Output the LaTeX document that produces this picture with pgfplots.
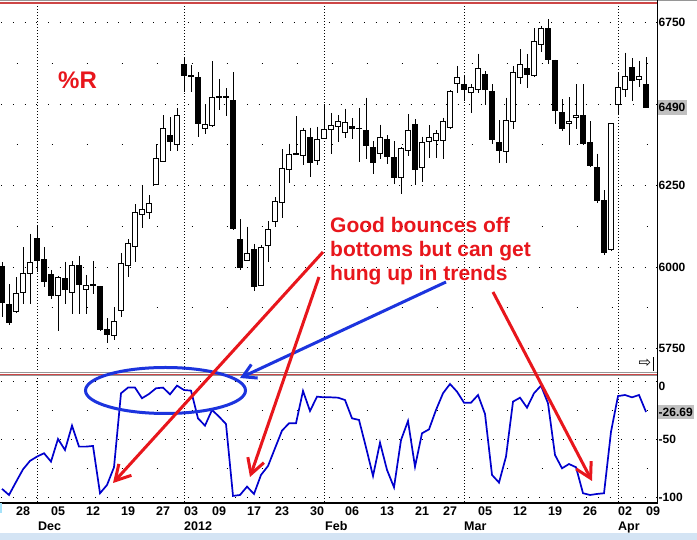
\documentclass[border=0pt]{standalone}
\usepackage{fontspec}
\setmainfont{Liberation Sans}
\newfontfamily\dejavu{DejaVu Sans}
\usepackage{pgfplots}
\usepackage{pgfplotstable}
\pgfplotsset{compat=1.18}
\usetikzlibrary{arrows.meta}
\definecolor{annred}{RGB}{232,22,28}
\definecolor{annblue}{RGB}{28,52,222}
\definecolor{wrline}{RGB}{0,0,205}
\definecolor{sepred}{RGB}{205,70,70}
\definecolor{sepgray}{RGB}{150,150,150}
\definecolor{lblgray}{RGB}{192,192,192}
\definecolor{stripblue}{RGB}{212,228,244}

% Daily OHLC (i = trading-day index, 0 = 22 Nov 2011)
\pgfplotstableread{
i o h l c
0 6001 6016 5848 5892
1 5886 5947 5823 5830
2 5864 5968 5860 5920
3 5923 6060 5886 5981
4 5981 6102 5886 6015
5 6088 6129 5985 6020
6 6022 6061 5940 5956
7 5978 5991 5901 5913
8 5913 5973 5804 5968
9 5966 6017 5886 5932
10 5923 6019 5855 6004
11 6004 6034 5855 5945
12 5932 5976 5855 5942
13 5947 6019 5918 5943
14 5940 5942 5804 5810
15 5810 5843 5766 5794
16 5791 5876 5776 5832
17 5868 6043 5847 6012
18 6004 6086 5969 6073
19 6063 6192 6015 6168
20 6160 6252 6119 6178
21 6168 6221 6146 6196
22 6254 6377 6252 6333
23 6325 6466 6325 6425
24 6403 6461 6356 6385
25 6376 6487 6356 6466
26 6622 6644 6536 6587
27 6588 6620 6538 6585
28 6582 6597 6400 6440
29 6425 6499 6407 6438
30 6434 6632 6431 6521
31 6519 6577 6482 6522
32 6523 6548 6464 6519
33 6512 6598 6115 6119
34 6086 6146 5991 6000
35 6019 6124 6019 6042
36 6054 6071 5928 5940
37 5943 6068 5943 6061
38 6065 6141 6017 6116
39 6139 6214 6124 6201
40 6198 6361 6150 6303
41 6300 6379 6259 6346
42 6345 6463 6345 6348
43 6341 6428 6313 6420
44 6398 6428 6277 6320
45 6326 6431 6313 6392
46 6395 6500 6395 6422
47 6422 6473 6347 6433
48 6431 6466 6385 6446
49 6413 6486 6397 6444
50 6432 6456 6394 6424
51 6426 6488 6323 6424
52 6420 6520 6331 6372
53 6368 6387 6285 6320
54 6347 6437 6331 6398
55 6392 6405 6316 6338
56 6336 6386 6254 6275
57 6275 6369 6223 6364
58 6358 6468 6340 6418
59 6436 6453 6253 6298
60 6306 6400 6262 6382
61 6384 6435 6335 6397
62 6389 6420 6335 6410
63 6387 6458 6331 6446
64 6427 6543 6425 6537
65 6563 6617 6535 6582
66 6560 6590 6508 6544
67 6535 6561 6473 6551
68 6545 6655 6535 6609
69 6592 6600 6497 6545
70 6537 6561 6377 6391
71 6382 6451 6320 6357
72 6354 6520 6320 6451
73 6446 6617 6422 6597
74 6582 6668 6563 6622
75 6609 6654 6548 6590
76 6589 6732 6584 6692
77 6683 6740 6660 6732
78 6732 6760 6623 6638
79 6635 6636 6438 6480
80 6474 6514 6418 6425
81 6441 6521 6373 6448
82 6459 6561 6425 6466
83 6466 6560 6374 6379
84 6382 6448 6308 6311
85 6306 6348 6195 6205
86 6205 6236 6037 6045
87 6054 6440 6050 6440
88 6499 6599 6466 6551
89 6545 6658 6522 6586
90 6612 6640 6510 6571
91 6575 6633 6551 6584
92 6561 6643 6490 6490
}\ohlc

% Williams %R
\pgfplotstableread{
i r
0 -93.0
1 -98.3
2 -87.1
3 -76.2
4 -68.9
5 -65.2
6 -62.3
7 -69.5
8 -50.0
9 -59.5
10 -38.5
11 -56.6
12 -56.6
13 -56.0
14 -96.8
15 -89.7
16 -74.4
17 -10.6
18 -5.7
19 -5.7
20 -14.9
21 -11.2
22 -6.3
23 -5.7
24 -11.5
25 -4.0
26 -7.8
27 -8.3
28 -32.2
29 -38.5
30 -25.0
31 -30.7
32 -37.1
33 -99.1
34 -98.3
35 -91.1
36 -97.4
37 -81.0
38 -73.3
39 -58.0
40 -42.8
41 -36.5
42 -36.5
43 -8.6
44 -25.9
45 -13.5
46 -14.1
47 -14.1
48 -14.4
49 -16.4
50 -32.2
51 -33.6
52 -57.2
53 -81.9
54 -53.2
55 -76.7
56 -91.7
57 -50.9
58 -34.5
59 -73.9
60 -45.1
61 -41.7
62 -25.0
63 -10.6
64 -2.6
65 -9.2
66 -18.7
67 -18.7
68 -12.1
69 -28.4
70 -81.0
71 -87.6
72 -65.2
73 -17.8
74 -14.4
75 -23.0
76 -10.6
77 -4.0
78 -19.3
79 -63.8
80 -75.3
81 -71.6
82 -74.4
83 -96.8
84 -98.3
85 -97.4
86 -96.8
87 -43.7
88 -13.0
89 -12.1
90 -14.1
91 -12.1
92 -26.69
}\wprdata

\pgfplotsset{
  chartbase/.style={
    scale only axis, width=657pt,
    xmin=-0.286, xmax=93.57,
    axis line style={draw=none},
    major tick length=0pt, minor tick length=0pt,
    ticklabel style={font=\fontsize{12}{14}\selectfont\bfseries},
    yticklabel pos=right,
    yticklabel style={anchor=west, inner xsep=1.5pt, inner ysep=2pt},
    extra x ticks={5,26,46,66,88}, extra x tick labels={},
    extra x tick style={grid=major,
      major grid style={black, line width=0.9pt, dash pattern=on 0.9pt off 2.1pt}},
    ymajorgrids, yminorgrids,
    major grid style={black, line width=0.9pt, dash pattern=on 0.9pt off 10.8pt, dash phase=10.5pt},
    minor grid style={black, line width=0.9pt, dash pattern=on 0.9pt off 34.1pt, dash phase=18.5pt},
  },
}

\begin{document}
\begin{tikzpicture}
\useasboundingbox (0pt,0pt) rectangle (697pt,540pt);
\fill[white] (0pt,0pt) rectangle (697pt,540pt);

% ---------------- price panel ----------------
\begin{axis}[chartbase,
  at={(0pt,166pt)}, anchor=south west, height=371pt,
  ymin=5672, ymax=6810,
  xtick=\empty,
  ytick={5750,6000,6250,6500,6750}, yticklabels={5750,6000,6250,,6750},
  minor ytick={5875,6125,6375,6625},
  extra y ticks={6490}, extra y tick labels={6490},
  extra y tick style={grid=none, yticklabel style={fill=lblgray, inner ysep=3.5pt}},
]
% wicks (high to low)
\addplot[draw=none, mark=none,
  error bars/.cd, y dir=minus, y explicit, error mark=none,
  error bar style={black, line width=1pt, solid}]
  table[x=i, y=h, y error minus expr=\thisrow{h}-\thisrow{l}] {\ohlc};
% bodies (open to close)
\pgfplotsinvokeforeach{0,...,92}{
  \pgfplotstablegetelem{#1}{o}\of\ohlc \pgfmathsetmacro\candO{\pgfplotsretval}
  \pgfplotstablegetelem{#1}{c}\of\ohlc \pgfmathsetmacro\candC{\pgfplotsretval}
  \pgfmathtruncatemacro\candUp{\candC>=\candO ? 1 : 0}
  \ifnum\candUp=1 \def\candFill{white}\else\def\candFill{black}\fi
  \pgfmathsetmacro\candXa{#1-0.31}
  \pgfmathsetmacro\candXb{#1+0.31}
  \edef\candPlot{\noexpand\addplot[draw=black, fill=\candFill, line width=1pt, solid, mark=none]
    coordinates {(\candXa,\candO) (\candXb,\candO) (\candXb,\candC) (\candXa,\candC)} -- cycle;}
  \candPlot
}
\end{axis}

% ---------------- %R panel ----------------
\begin{axis}[chartbase,
  at={(0pt,37pt)}, anchor=south west, height=127pt,
  ymin=-105.2, ymax=4.3,
  xtick={3,8,13,18,23,27,31,36,40,45,50,55,60,64,69,74,79,84,89,93},
  xticklabels={28,05,12,19,27,03,09,17,23,30,06,13,21,27,05,12,19,26,02,09},
  xticklabel style={font=\fontsize{12.5}{14}\selectfont\bfseries},
  ytick={-100,-50,0}, yticklabels={-100,-50,\smash{\raisebox{-9.5pt}{0}}},
  minor ytick={-75,-25},
  extra y ticks={-26.69}, extra y tick labels={-26.69},
  extra y tick style={grid=none, yticklabel style={fill=lblgray, inner ysep=2.5pt}},
]
\addplot[wrline, line width=1.7pt, mark=none] table[x=i, y=r] {\wprdata};
\end{axis}

% frame lines
\draw[sepgray, line width=0.8pt] (0pt,539.6pt) -- (697pt,539.6pt);
\draw[sepred, line width=2pt] (0pt,537pt) -- (657pt,537pt);
\draw[sepgray, line width=0.7pt] (0pt,167.2pt) -- (657pt,167.2pt);
\draw[sepred, line width=1.3pt] (0pt,165.8pt) -- (657pt,165.8pt);
\draw[sepgray, line width=0.7pt] (0pt,164.3pt) -- (657pt,164.3pt);
\draw[black, line width=1.2pt] (657.5pt,37pt) -- (657.5pt,540pt);
\draw[black, line width=1.2pt] (0pt,37pt) -- (657.5pt,37pt);
\fill[stripblue] (0pt,0pt) rectangle (697pt,7pt);
\fill[cyan!35] (0pt,27pt) rectangle (2pt,37pt);

% month labels
\begin{scope}[every node/.style={anchor=base west, inner sep=0pt, font=\fontsize{12.5}{14}\selectfont\bfseries}]
\node at (38pt,9pt) {Dec};
\node at (184pt,9pt) {2012};
\node at (325pt,9pt) {Feb};
\node at (464pt,9pt) {Mar};
\node at (618pt,9pt) {Apr};
\end{scope}

% scroll icon
\node[inner sep=0pt, font=\dejavu\fontsize{15}{15}\selectfont] at (645pt,176.5pt) {⇨};
\draw[black, line width=1pt] (653.5pt,169pt) -- (653.5pt,183pt);

% annotations
\draw[annblue, line width=3pt] (165.5pt,149.5pt) ellipse [x radius=80pt, y radius=23pt];
\draw[annblue, line width=3pt, -{Straight Barb[length=13pt,width=15pt]}] (446pt,258pt) -- (240pt,162pt);
\draw[annred, line width=3pt, -{Straight Barb[length=15pt,width=17pt]}] (323pt,288pt) -- (113pt,57pt);
\draw[annred, line width=3pt, -{Straight Barb[length=15pt,width=17pt]}] (319pt,263pt) -- (250pt,63pt);
\draw[annred, line width=3pt, -{Straight Barb[length=15pt,width=17pt]}] (493pt,248pt) -- (592pt,59pt);

\begin{scope}[every node/.style={anchor=base west, inner sep=0pt, text=annred, font=\fontsize{21}{24}\selectfont\bfseries}]
\node at (330pt,307pt) {Good bounces off};
\node at (330pt,283pt) {bottoms but can get};
\node at (330pt,259pt) {hung up in trends};
\end{scope}
\node[anchor=base west, inner sep=0pt, text=annred, font=\fontsize{24}{28}\selectfont\bfseries] at (58pt,451pt) {\%R};
\end{tikzpicture}
\end{document}
